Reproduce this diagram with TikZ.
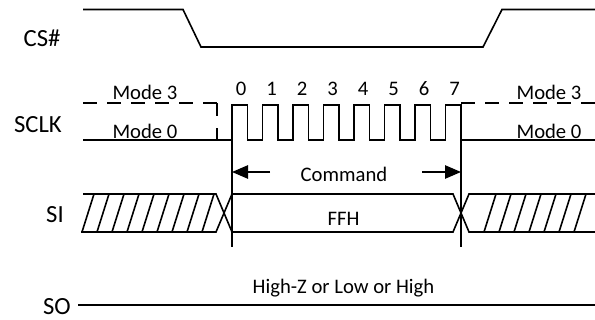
\documentclass[tikz,border=0pt]{standalone}
\usepackage{fontspec}
\setmainfont{Carlito}
\usetikzlibrary{arrows.meta}

\begin{document}
\begin{tikzpicture}[x=0.75pt,y=-0.75pt,>={Triangle[length=12pt,width=10pt]},line width=1.2pt,
  signame/.style={anchor=base,inner sep=0pt,font=\fontsize{18.5}{22}\selectfont},
  small/.style={anchor=base,inner sep=0pt,font=\fontsize{15.5}{18}\selectfont},
  dashline/.style={dash pattern=on 10.5pt off 7.5pt}]
\useasboundingbox (0,0) rectangle (595,320);

% signal names
\node[signame] (csname) at (42,47) {CS\#};
\node[signame] (sclkname) at (38,133) {SCLK};
\node[signame] (siname) at (55,222) {SI};
\node[signame] (soname) at (57,314) {SO};

% CS#
\draw (83,9.5) -- (183,9.5) -- (201,47) -- (483,47) -- (502,9.5) -- (595,9.5);

% SCLK, mode 3 idle level
\draw[dashline] (83,103) -- (217,103);
\draw[dash pattern=on 10pt off 9pt] (217,103) -- (217,140);
\draw[dashline] (461,103) -- (595,103);
% SCLK, mode 0 idle level and the 8 clocks
\draw (83,140) -- (232,140)
  \foreach \n in {0,...,7} { -- ({232+30.5*\n},140) -- ({232+30.5*\n},105)
    -- ({247.5+30.5*\n},105) -- ({247.5+30.5*\n},140) } -- (595,140);
\foreach \n in {0,...,7}
  \node[small] (clk\n) at ({241+30.5*\n},96) {\n};
\node[small] (modeLa) at (145,100) {Mode 3};
\node[small] (modeLb) at (145,139) {Mode 0};
\node[small] (modeRa) at (549,100) {Mode 3};
\node[small] (modeRb) at (549,139) {Mode 0};

% start / end markers
\coordinate (tstart) at (232,105);
\coordinate (tend) at (461,105);
\draw (tstart) -- ++(0,142);
\draw (tend) -- ++(0,142);

% command span
\node[small] (cmd) at (344,181) {Command};
\coordinate (cmdL) at (270,172);
\coordinate (cmdR) at (422,172);
\draw[->] (cmdL) -- (cmdL -| tstart);
\draw[->] (cmdR) -- (cmdR -| tend);

% SI bus
\draw (83,194) -- (216,194) -- (232,232) -- (453,232) -- (469,194) -- (595,194);
\draw (81,232) -- (216,232) -- (232,194) -- (453,194) -- (469,232) -- (595,232);
\foreach \x in {82,97,...,202}
  \draw (\x,232) -- (\x+12,194);
\foreach \x in {484,499,...,574}
  \draw (\x,232) -- (\x+12,194);
\node[small] (ffh) at (343.5,225) {FFH};

% SO
\coordinate (soL) at (78,305);
\draw (soL) -- (soL -| 595,0);
\node[small] (soval) at (343.5,293) {High-Z or Low or High};
\end{tikzpicture}
\end{document}
